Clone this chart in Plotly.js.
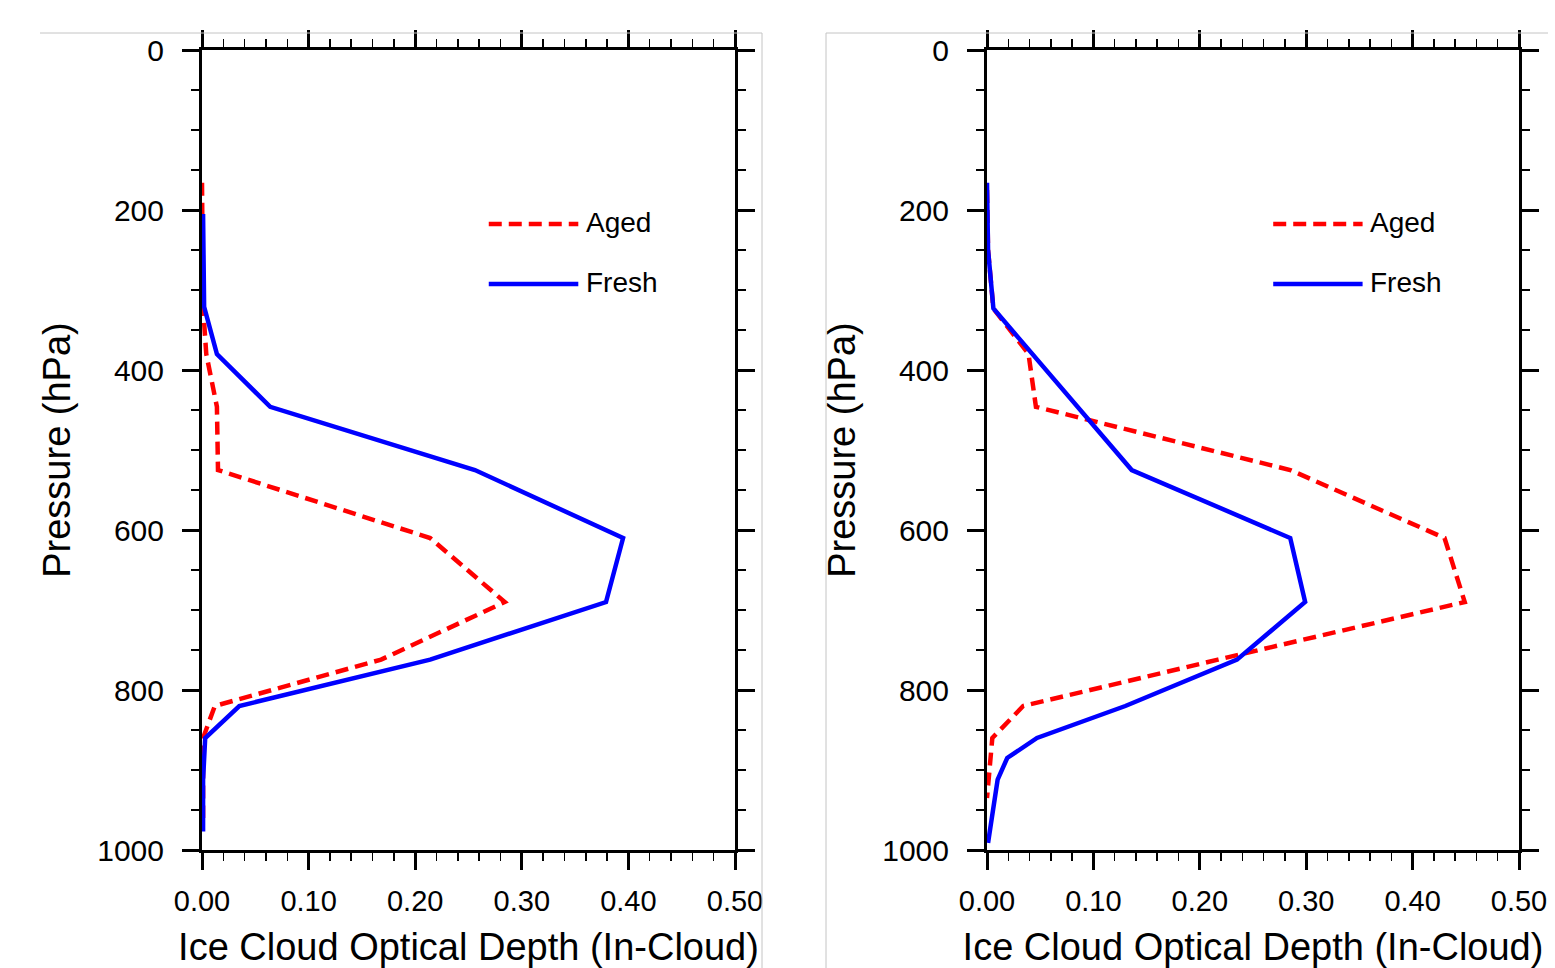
<!DOCTYPE html>
<html>
<head>
<meta charset="utf-8">
<script src="https://cdn.plot.ly/plotly-3.0.1.min.js"></script>
<style>
html,body{margin:0;padding:0;background:#fff;}
#chart{width:1555px;height:968px;}
</style>
</head>
<body>
<div id="chart"></div>
<script>
// ---- Data ----
// Left panel
const pLeftAged  = [166, 250, 321, 380, 446, 525, 610, 690, 762, 820, 860, 960];
const xLeftAged  = [0, 0, 0.001, 0.004, 0.014, 0.015, 0.214, 0.284, 0.168, 0.012, 0.001, 0.001];
const pLeftFresh = [205, 321, 380, 446, 525, 610, 690, 762, 820, 860, 912, 977];
const xLeftFresh = [0.001, 0.002, 0.014, 0.064, 0.256, 0.395, 0.379, 0.214, 0.035, 0.003, 0.001, 0.001];
// Right panel
const pRightAged  = [175, 250, 323, 380, 446, 525, 610, 690, 762, 820, 860, 935];
const xRightAged  = [0, 0.001, 0.006, 0.039, 0.046, 0.285, 0.430, 0.449, 0.217, 0.034, 0.005, 0];
const pRightFresh = [166, 250, 323, 380, 446, 525, 610, 690, 762, 820, 860, 885, 912, 960, 991];
const xRightFresh = [0, 0.001, 0.006, 0.043, 0.086, 0.136, 0.285, 0.299, 0.235, 0.130, 0.047, 0.019, 0.010, 0.005, 0.001];

const seriesNames = ["Aged", "Fresh"];
const xTitle = "Ice Cloud Optical Depth (In-Cloud)";
const yTitle = "Pressure (hPa)";

const RED = "#ff0000", BLUE = "#0000ff";
const FONT = "Liberation Sans, Arial, Helvetica, sans-serif";

function tr(x, y, xa, ya, color, dash) {
  return {
    type: "scatter", mode: "lines", x: x, y: y, xaxis: xa, yaxis: ya,
    line: {color: color, width: 4.5, dash: dash}, showlegend: false, hoverinfo: "skip"
  };
}
const DASH = "13px,7px";
const data = [
  tr(xLeftAged, pLeftAged, "x", "y", RED, DASH),
  tr(xLeftFresh, pLeftFresh, "x", "y", BLUE, "solid"),
  tr(xRightAged, pRightAged, "x2", "y2", RED, DASH),
  tr(xRightFresh, pRightFresh, "x2", "y2", BLUE, "solid")
];

function xax(domain) {
  return {
    domain: domain, range: [0, 0.5], dtick: 0.1, tick0: 0, tickformat: ".2f",
    showline: true, linecolor: "#000", linewidth: 3, mirror: "allticks",
    ticks: "outside", ticklen: 17, tickwidth: 3, tickcolor: "#000",
    minor: {ticks: "outside", ticklen: 8, tickwidth: 1.5, dtick: 0.02, tick0: 0, tickcolor: "#000", showgrid: false},
    showgrid: false, zeroline: false, fixedrange: true,
    tickfont: {family: FONT, size: 29, color: "#000"},
    ticklabelstandoff: 6,
    title: {text: xTitle, font: {family: FONT, size: 38, color: "#000"}, standoff: 20},
    layer: "below traces"
  };
}
function yax(anchor) {
  return {
    domain: [0.1219, 0.9483], range: [1000, 0], dtick: 200, tick0: 0, anchor: anchor,
    showline: true, linecolor: "#000", linewidth: 3, mirror: "allticks",
    ticks: "outside", ticklen: 17, tickwidth: 3, tickcolor: "#000",
    minor: {ticks: "outside", ticklen: 8, tickwidth: 1.5, dtick: 50, tick0: 0, tickcolor: "#000", showgrid: false},
    showgrid: false, zeroline: false, fixedrange: true,
    tickfont: {family: FONT, size: 30, color: "#000"},
    ticklabelstandoff: 12,
    title: {text: yTitle, font: {family: FONT, size: 38, color: "#000"}, standoff: 15},
    layer: "below traces"
  };
}

const shapes = [];
const annotations = [];
const legendY = [0.7825, 0.7075];
const legendColors = [RED, BLUE];
const legendDash = [DASH, "solid"];
[["x", "y"], ["x2", "y2"]].forEach(function(ax) {
  for (let i = 0; i < 2; i++) {
    shapes.push({
      type: "line", xref: ax[0] + " domain", yref: ax[1] + " domain",
      x0: 0.538, x1: 0.706, y0: legendY[i], y1: legendY[i],
      line: {color: legendColors[i], width: 4.5, dash: legendDash[i]}
    });
    annotations.push({
      xref: ax[0] + " domain", yref: ax[1] + " domain",
      x: 0.716, y: legendY[i] + 0.002, xanchor: "left", yanchor: "middle",
      text: seriesNames[i], showarrow: false,
      font: {family: FONT, size: 28, color: "#000"}
    });
  }
});
// light grey page frame lines
const GREY = "#c4c4c4";
shapes.push({type: "line", xref: "paper", yref: "paper", x0: 40/1555, x1: 762/1555, y0: 1 - 33/968, y1: 1 - 33/968, line: {color: GREY, width: 1}});
shapes.push({type: "line", xref: "paper", yref: "paper", x0: 762/1555, x1: 762/1555, y0: 1 - 33/968, y1: 0, line: {color: GREY, width: 1}});
shapes.push({type: "line", xref: "paper", yref: "paper", x0: 826/1555, x1: 1548/1555, y0: 1 - 33/968, y1: 1 - 33/968, line: {color: GREY, width: 1}});
shapes.push({type: "line", xref: "paper", yref: "paper", x0: 826/1555, x1: 826/1555, y0: 1 - 33/968, y1: 0, line: {color: GREY, width: 1}});

const layout = {
  width: 1555, height: 968,
  margin: {l: 0, r: 0, t: 0, b: 0},
  paper_bgcolor: "#fff", plot_bgcolor: "#fff",
  showlegend: false,
  xaxis: xax([202/1555, 735/1555]),
  yaxis: yax("x"),
  xaxis2: Object.assign(xax([987/1555, 1519/1555]), {anchor: "y2"}),
  yaxis2: yax("x2"),
  shapes: shapes,
  annotations: annotations
};
layout.xaxis.anchor = "y";

Plotly.newPlot("chart", data, layout, {staticPlot: true, displayModeBar: false});
</script>
</body>
</html>
